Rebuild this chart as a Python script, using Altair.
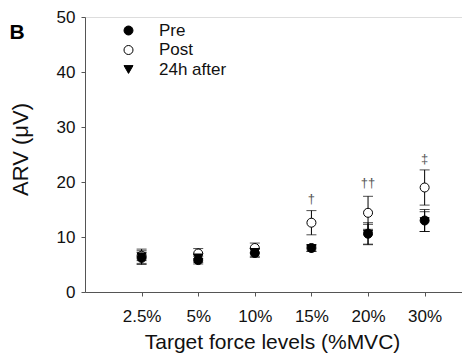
import altair as alt
import pandas as pd

levels = ["2.5%", "5%", "10%", "15%", "20%", "30%"]
series_names = ["Pre", "Post", "24h after"]
pre_mean = [6.2, 5.8, 7.1, 8.0, 10.6, 13.0]
pre_err = [1.0, 0.7, 0.8, 0.6, 2.0, 2.0]
post_mean = [6.6, 7.0, 8.0, 12.6, 14.4, 19.0]
post_err = [0.9, 0.9, 0.9, 2.2, 3.0, 3.2]
h24_mean = [6.4, 6.2, 7.2, 7.9, 10.5, 12.8]
h24_err = [1.4, 0.8, 0.7, 0.5, 1.8, 1.8]
sig_levels = ["15%", "20%", "30%"]
sig_marks = ["\u2020", "\u2020\u2020", "\u2021"]
sig_y = [16.9, 19.8, 24.2]
y_ticks = [0, 10, 20, 30, 40, 50]

FONT = "Liberation Sans"

rows = []
for name, means, errs in [("Post", post_mean, post_err),
                          ("24h after", h24_mean, h24_err),
                          ("Pre", pre_mean, pre_err)]:
    for i, (m, e) in enumerate(zip(means, errs)):
        rows.append({"idx": i + 1, "level": levels[i], "series": name,
                     "mean": m, "lo": m - e, "hi": m + e})
df = pd.DataFrame(rows)

sig_df = pd.DataFrame({"idx": [levels.index(l) + 1 for l in sig_levels],
                       "mark": sig_marks, "y": sig_y})

label_expr = "[" + ",".join("'" + l + "'" for l in levels) + "][datum.value - 1]"

x_enc = alt.X("idx:Q",
              scale=alt.Scale(domain=[0, 6.66], nice=False, zero=False),
              axis=alt.Axis(values=list(range(1, len(levels) + 1)),
                            labelExpr=label_expr,
                            title="Target force levels (%MVC)",
                            grid=False, domainColor="#555", tickColor="#555",
                            tickSize=4, labelPadding=12,
                            labelFont=FONT, labelFontSize=17, labelColor="#111",
                            titleFont=FONT, titleFontSize=21, titleFontWeight="normal",
                            titleColor="#111", titleX=187, titleY=50,
                            titleAlign="center", titleBaseline="middle"))
y_axis = alt.Axis(values=y_ticks, title="ARV (\u03bcV)", grid=False,
                  domainColor="#555", tickColor="#555", tickSize=4, labelPadding=6,
                  labelFont=FONT, labelFontSize=17, labelColor="#111",
                  titleFont=FONT, titleFontSize=22, titleFontWeight="normal",
                  titleColor="#111", titleX=-65, titleY=132, titleAngle=-90,
                  titleAlign="center", titleBaseline="middle")
y_scale = alt.Scale(domain=[0, 50], nice=False)

base = alt.Chart(df)

rules = base.mark_rule(color="black", strokeWidth=1).encode(
    x=x_enc,
    y=alt.Y("lo:Q", scale=y_scale, axis=y_axis),
    y2="hi:Q",
)
caps = base.transform_fold(["lo", "hi"], as_=["which", "val"]).mark_tick(
    color="black", size=10, thickness=1, orient="horizontal").encode(
    x=x_enc,
    y=alt.Y("val:Q", scale=y_scale, axis=y_axis),
)

leg = alt.Legend(title=None, orient="none", legendX=35, legendY=5,
                 labelFont=FONT, labelFontSize=17, labelColor="#111",
                 symbolSize=81, symbolStrokeWidth=1,
                 labelOffset=22, rowPadding=1.5, padding=0)

points = base.mark_point(filled=True, strokeWidth=1,
                         opacity=1, size=81).encode(
    x=x_enc,
    y=alt.Y("mean:Q", scale=y_scale, axis=y_axis),
    shape=alt.Shape("series:N",
                    scale=alt.Scale(domain=series_names,
                                    range=["circle", "circle", "triangle-down"]),
                    legend=leg),
    fill=alt.Fill("series:N",
                  scale=alt.Scale(domain=series_names,
                                  range=["black", "white", "black"]),
                  legend=leg),
    stroke=alt.Stroke("series:N",
                      scale=alt.Scale(domain=series_names,
                                      range=["black", "black", "black"]),
                      legend=leg),
)

sig = alt.Chart(sig_df).mark_text(font=FONT, fontSize=13, color="#555",
                                  baseline="middle").encode(
    x=x_enc,
    y=alt.Y("y:Q", scale=y_scale, axis=y_axis),
    text="mark:N",
)

panel = alt.Chart(pd.DataFrame({"t": ["B"]})).mark_text(
    font=FONT, fontSize=21, fontWeight="bold", color="black",
    align="center", baseline="middle").encode(
    x=alt.value(-68), y=alt.value(16), text="t:N")

chart = alt.layer(rules, caps, points, sig, panel).properties(
    width=377, height=275,
    autosize=alt.AutoSizeParams(type="none"),
    padding={"left": 77, "top": 9, "right": 0, "bottom": 62},
).configure_view(stroke=None).configure(
    background="white", font=FONT
).configure_axis(labelFont=FONT, titleFont=FONT)

chart.save("out.html", embed_options={"renderer": "svg", "actions": False})
